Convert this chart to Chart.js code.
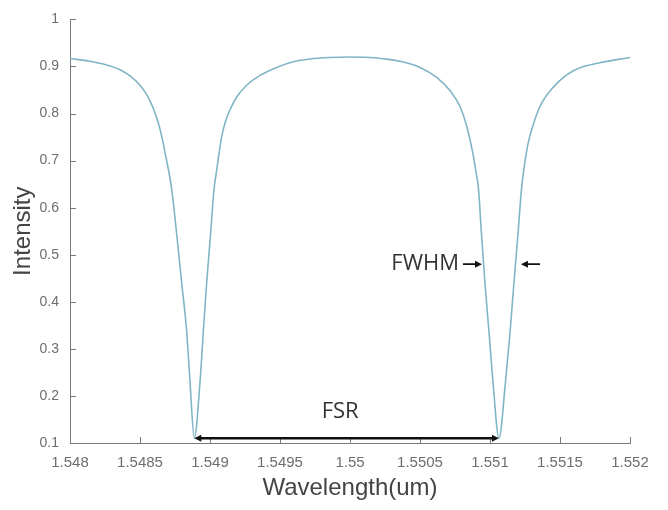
<!DOCTYPE html>
<html>
<head>
<meta charset="utf-8">
<script src="https://cdn.jsdelivr.net/npm/chart.js@4.4.1/dist/chart.umd.min.js"></script>
<style>
  html, body { margin: 0; padding: 0; background: #fff; }
  #wrap { width: 668px; height: 510px; }
</style>
</head>
<body>
<div id="wrap"><canvas id="spectrum" width="668" height="510"></canvas></div>
<script>
// transmission spectrum of the ring, two resonance dips
const wavelength = [
    1.548000, 1.548143, 1.548286, 1.548357, 1.548429, 1.548500, 1.548548, 1.548595,
    1.548631, 1.548655, 1.548679, 1.548726, 1.548762, 1.548798, 1.548834,
    1.548857, 1.548888, 1.548929, 1.548952, 1.548976, 1.549004, 1.549029, 1.549046,
    1.549062, 1.549084, 1.549107, 1.549143, 1.549191, 1.549262, 1.549357, 1.549476,
    1.549595, 1.549714, 1.549857, 1.550000, 1.550143, 1.550250, 1.550357, 1.550500,
    1.550619, 1.550714, 1.550786, 1.550834, 1.550881, 1.550900, 1.550918, 1.550939,
    1.550964, 1.550993, 1.551021, 1.551064, 1.551111, 1.551143, 1.551171, 1.551200,
    1.551225, 1.551246, 1.551271, 1.551298, 1.551357, 1.551452, 1.551595, 1.551786,
    1.552000
];
const intensity = [
    0.917, 0.911, 0.901, 0.893, 0.880, 0.860, 0.840, 0.811,
    0.780, 0.752, 0.717, 0.640, 0.544, 0.440, 0.335,
    0.231, 0.110, 0.231, 0.335, 0.440, 0.544, 0.640, 0.676,
    0.710, 0.752, 0.780, 0.808, 0.835, 0.860, 0.881, 0.898,
    0.910, 0.916, 0.919, 0.920, 0.919, 0.916, 0.911, 0.898,
    0.877, 0.849, 0.815, 0.773, 0.710, 0.676, 0.640, 0.544,
    0.440, 0.335, 0.231, 0.110, 0.231, 0.335, 0.440, 0.544,
    0.640, 0.690, 0.735, 0.766, 0.815, 0.856, 0.891, 0.908,
    0.919
];

const xTicks = [1.548, 1.5485, 1.549, 1.5495, 1.55, 1.5505, 1.551, 1.5515, 1.552];
const xTickLabels = ['1.548', '1.5485', '1.549', '1.5495', '1.55', '1.5505', '1.551', '1.5515', '1.552'];
const yTicks = [0.1, 0.2, 0.3, 0.4, 0.5, 0.6, 0.7, 0.8, 0.9, 1];
const yTickLabels = ['0.1', '0.2', '0.3', '0.4', '0.5', '0.6', '0.7', '0.8', '0.9', '1'];

// FSR between the two minima, FWHM marked on the second dip
const dipCenters = [1.548888, 1.551064];
const dipLevel = 0.11;
const fsrText = 'FSR';
const fsrTextAt = [1.54993, 0.167];
const fwhmText = 'FWHM';
const fwhmLevel = 0.48;
const fwhmEdges = [1.550943, 1.551221];

const axisColor = '#7a7a7a';

function arrowHead(ctx, x, y, dir, len, half) {
    ctx.beginPath();
    ctx.moveTo(x, y);
    ctx.lineTo(x - dir * len, y - half);
    ctx.lineTo(x - dir * len, y + half);
    ctx.closePath();
    ctx.fill();
}

const markupPlugin = {
    id: 'markup',
    afterDraw(chart) {
        const ctx = chart.ctx;
        const xs = chart.scales.x;
        const ys = chart.scales.y;
        const area = chart.chartArea;
        ctx.save();

        // tick marks pointing into the plot
        ctx.strokeStyle = axisColor;
        ctx.lineWidth = 1;
        ctx.beginPath();
        xTicks.forEach(v => {
            const px = Math.round(xs.getPixelForValue(v)) + 0.5;
            ctx.moveTo(px, area.bottom);
            ctx.lineTo(px, area.bottom - 6);
        });
        yTicks.forEach(v => {
            const py = Math.round(ys.getPixelForValue(v)) + 0.5;
            ctx.moveTo(area.left, py);
            ctx.lineTo(area.left + 6, py);
        });
        ctx.stroke();

        // FSR double arrow
        const y0 = ys.getPixelForValue(dipLevel);
        const xa = xs.getPixelForValue(dipCenters[0]);
        const xb = xs.getPixelForValue(dipCenters[1]);
        ctx.strokeStyle = '#111';
        ctx.fillStyle = '#111';
        ctx.lineWidth = 2.5;
        ctx.beginPath();
        ctx.moveTo(xa + 5, y0);
        ctx.lineTo(xb - 5, y0);
        ctx.stroke();
        arrowHead(ctx, xa, y0, -1, 7, 3.5);
        arrowHead(ctx, xb, y0, 1, 7, 3.5);

        ctx.font = '22px "Open Sans"';
        ctx.fillStyle = '#333';
        ctx.textAlign = 'center';
        ctx.textBaseline = 'middle';
        ctx.fillText(fsrText, xs.getPixelForValue(fsrTextAt[0]), ys.getPixelForValue(fsrTextAt[1]));

        // FWHM arrows
        const yf = ys.getPixelForValue(fwhmLevel);
        const xl = xs.getPixelForValue(fwhmEdges[0]);
        const xr = xs.getPixelForValue(fwhmEdges[1]);
        ctx.strokeStyle = '#111';
        ctx.fillStyle = '#111';
        ctx.lineWidth = 1.6;
        ctx.beginPath();
        ctx.moveTo(xl - 19, yf);
        ctx.lineTo(xl - 5, yf);
        ctx.moveTo(xr + 19, yf);
        ctx.lineTo(xr + 5, yf);
        ctx.stroke();
        arrowHead(ctx, xl, yf, 1, 7, 3.5);
        arrowHead(ctx, xr, yf, -1, 7, 3.5);

        ctx.fillStyle = '#333';
        ctx.textAlign = 'right';
        ctx.fillText(fwhmText, xl - 23, yf);
        ctx.restore();
    }
};

new Chart(document.getElementById('spectrum'), {
    type: 'line',
    data: {
        datasets: [{
            data: wavelength.map((w, i) => ({ x: w, y: intensity[i] })),
            borderColor: '#80b5c6',
            borderWidth: 1.6,
            pointRadius: 0,
            cubicInterpolationMode: 'monotone',
            fill: false
        }]
    },
    options: {
        responsive: false,
        animation: false,
        devicePixelRatio: 1,
        layout: { padding: { top: 11, right: 38, left: 0, bottom: 0 } },
        plugins: { legend: { display: false }, tooltip: { enabled: false } },
        scales: {
            x: {
                type: 'linear',
                min: 1.548,
                max: 1.552,
                afterBuildTicks: scale => { scale.ticks = xTicks.map(v => ({ value: v })); },
                afterFit: scale => { scale.height = 67; },
                ticks: {
                    autoSkip: false,
                    maxRotation: 0,
                    padding: 11,
                    color: '#6e6e6e',
                    font: { family: '"Liberation Sans"', size: 15 },
                    callback: (v, i) => xTickLabels[i]
                },
                grid: { display: true, drawOnChartArea: false, drawTicks: false },
                border: { display: true, color: axisColor, width: 1 },
                title: {
                    display: true,
                    text: 'Wavelength(um)',
                    color: '#444',
                    font: { family: '"Liberation Sans"', size: 24 },
                    padding: { top: 0, bottom: 7 }
                }
            },
            y: {
                min: 0.1,
                max: 1,
                afterBuildTicks: scale => { scale.ticks = yTicks.map(v => ({ value: v })); },
                afterFit: scale => { scale.width = 70; },
                ticks: {
                    autoSkip: false,
                    padding: 11,
                    color: '#6e6e6e',
                    font: { family: '"Liberation Sans"', size: 14 },
                    callback: (v, i) => yTickLabels[i]
                },
                grid: { display: true, drawOnChartArea: false, drawTicks: false },
                border: { display: true, color: axisColor, width: 1 },
                title: {
                    display: true,
                    text: 'Intensity',
                    color: '#444',
                    font: { family: '"Liberation Sans"', size: 24 },
                    padding: { top: 9, bottom: 0 }
                }
            }
        }
    },
    plugins: [markupPlugin]
});
</script>
</body>
</html>
